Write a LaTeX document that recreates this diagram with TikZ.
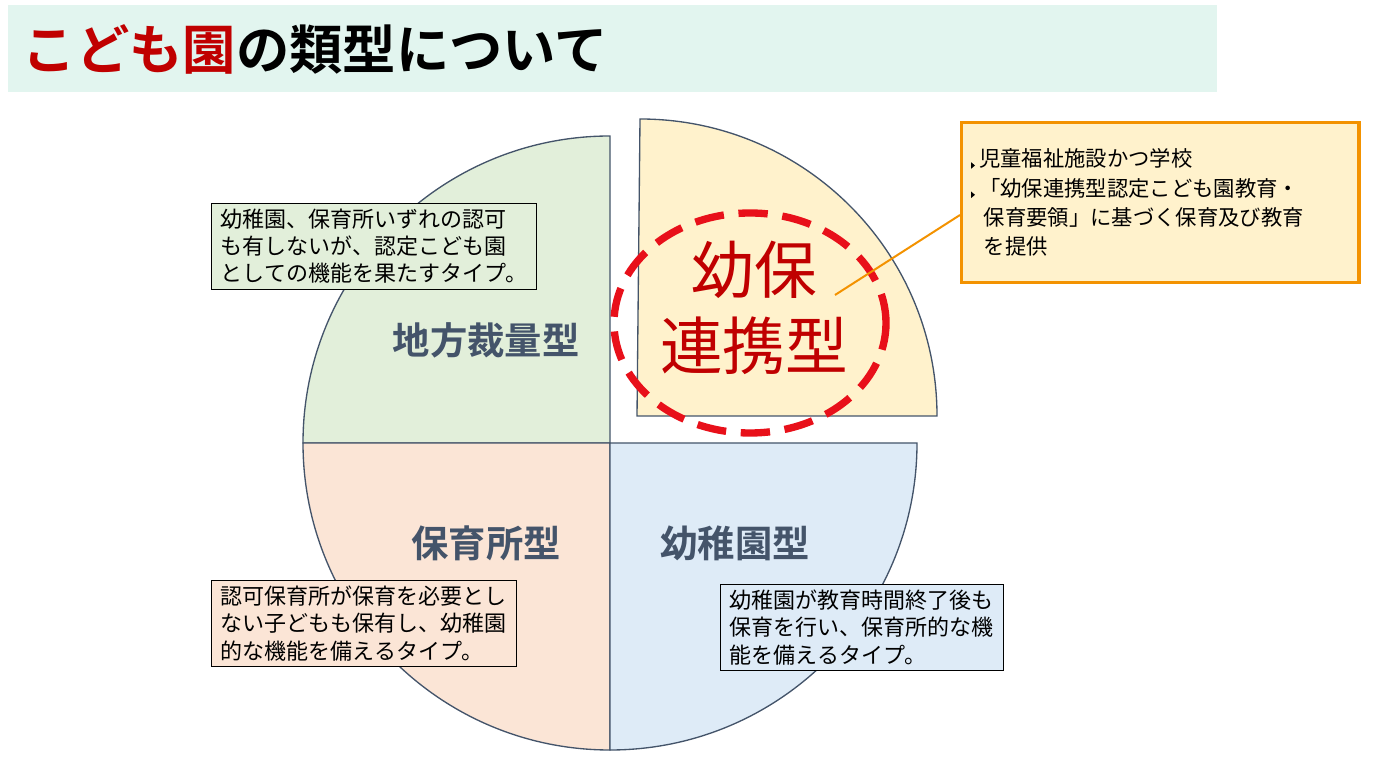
\documentclass[tikz,border=0pt]{standalone}
\usepackage{fontspec}
\newfontfamily\cjk{Noto Sans CJK JP}[BoldFont={Noto Sans CJK JP Bold}]
\definecolor{tband}{HTML}{E2F5EF}
\definecolor{qg}{HTML}{E2EFDA}
\definecolor{qy}{HTML}{FFF2CC}
\definecolor{qp}{HTML}{FBE5D6}
\definecolor{qb}{HTML}{DEEBF7}
\definecolor{edge}{HTML}{44546A}
\definecolor{dred}{HTML}{C00000}
\definecolor{ored}{HTML}{E8101A}
\definecolor{orng}{HTML}{F39200}
\newcommand{\mytri}{\tikz[baseline=-1pt]\fill (0,-2.5pt) -- (0,2.5pt) -- (3pt,0) -- cycle;\hspace{3pt}}
\tikzset{
 quad/.style={draw=edge, line width=1pt},
 desc/.style={draw=black, line width=0.6pt, align=left, font=\cjk\fontsize{16.5}{20.5}\selectfont, inner xsep=7pt, inner ysep=4pt, anchor=north west},
 qlabel/.style={font=\cjk\bfseries\fontsize{28}{32}\selectfont, text=edge}
}
\begin{document}
\begin{tikzpicture}[x=0.75pt,y=0.75pt]
\useasboundingbox (0,0) rectangle (1374,760);
\fill[tband] (8,668) rectangle (1217,755);
\node[anchor=west, font=\cjk\bfseries\fontsize{40}{44}\selectfont] (title) at (18,711) {\textcolor{dred}{こども園}の類型について};
% quadrants
\path[quad, fill=qg] (610,317) -- (303,317) arc (180:90:307) -- cycle;
\path[quad, fill=qp] (610,317) -- (610,10) arc (270:180:307) -- cycle;
\path[quad, fill=qb] (610,317) -- (917,317) arc (0:-90:307) -- cycle;
\path[quad, fill=qy] (637,344) -- (937,344) arc (0:90:297) -- cycle;
% labels
\node[qlabel] (l1) at (486,420) {地方裁量型};
\node[qlabel] (l2) at (486,217) {保育所型};
\node[qlabel] (l3) at (735,217) {幼稚園型};
\node[align=center, text=dred, font=\cjk\fontsize{47}{57}\selectfont] (l4) at (754,452) {幼保\\連携型};
\draw[ored, line width=5.5pt, dash pattern=on 22 off 11] (750,437) ellipse (136 and 110);
% description boxes
\node[desc, fill=qg] (d1) at (211,557) {幼稚園、保育所いずれの認可\\も有しないが、認定こども園\\としての機能を果たすタイプ。};
\node[desc, fill=qp] (d2) at (211,180) {認可保育所が保育を必要とし\\ない子どもも保有し、幼稚園\\的な機能を備えるタイプ。};
\node[desc, fill=qb] (d3) at (720,176) {幼稚園が教育時間終了後も\\保育を行い、保育所的な機\\能を備えるタイプ。};
\node[draw=orng, line width=2.5pt, fill=qy, anchor=north west, text width=284pt, align=left, inner xsep=7pt, inner ysep=12pt, font=\cjk\fontsize{16}{22}\selectfont, minimum height=120pt] (o) at (960,639)
 {\mytri 児童福祉施設かつ学校\\
  \mytri「幼保連携型認定こども園教育・\\
  \hspace*{0.6em}保育要領」に基づく保育及び教育\\
  \hspace*{0.6em}を提供};
\coordinate (lp) at (835,465);
\draw[orng, line width=1.5pt] (lp) -- (o.west |- 0,545);
\end{tikzpicture}
\end{document}
